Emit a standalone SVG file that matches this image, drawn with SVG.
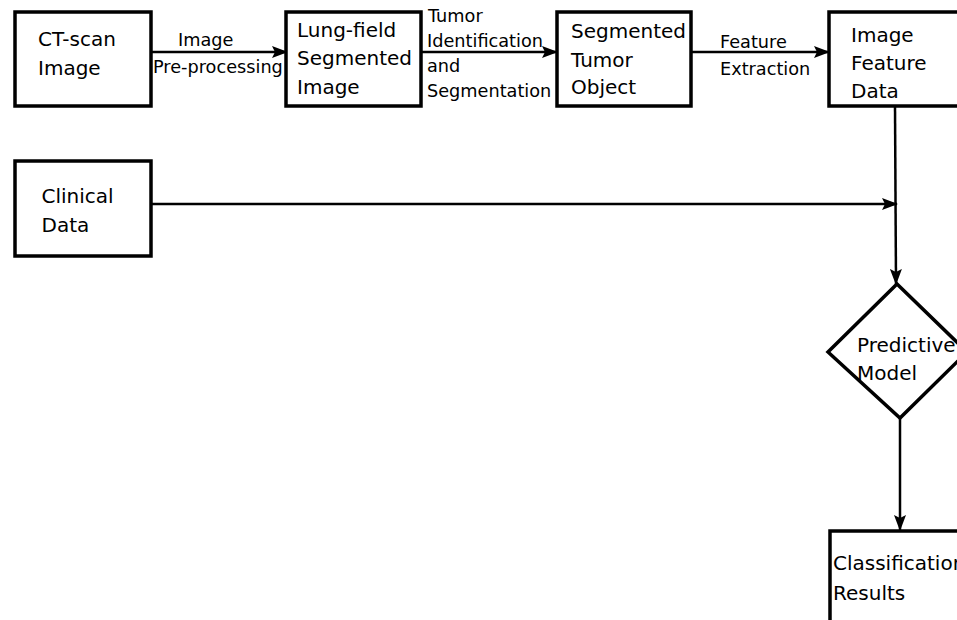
<svg xmlns="http://www.w3.org/2000/svg" width="957" height="620" viewBox="0 0 957 620">
<defs>
<marker id="ah" markerWidth="16" markerHeight="12" refX="15" refY="6" orient="auto" markerUnits="userSpaceOnUse">
<path d="M0,0 L16,6 L0,12 L3,6 Z" fill="#000"/>
</marker>
<style>
.box{fill:#fff;stroke:#000;stroke-width:3.5}
.nt{font-family:"DejaVu Sans",sans-serif;font-size:20px;fill:#000}
.et{font-family:"DejaVu Sans",sans-serif;font-size:17.7px;fill:#000}
.ln{fill:none;stroke:#000;stroke-width:2.5}
</style>
</defs>
<rect width="957" height="620" fill="#fff"/>
<g id="connectors">
<line class="ln" x1="151" y1="52" x2="287" y2="52" marker-end="url(#ah)"/>
<line class="ln" x1="421" y1="52" x2="557" y2="52" marker-end="url(#ah)"/>
<line class="ln" x1="691" y1="52" x2="829" y2="52" marker-end="url(#ah)"/>
<line class="ln" x1="151" y1="204" x2="897" y2="204" marker-end="url(#ah)"/>
<line class="ln" x1="895" y1="106" x2="896" y2="284" marker-end="url(#ah)"/>
<line class="ln" x1="900" y1="418" x2="900" y2="530" marker-end="url(#ah)"/>
<text class="et" x="178" y="46">Image</text>
<text class="et" x="153" y="73">Pre-processing</text>
<text class="et" x="428" y="21.5">Tumor</text>
<text class="et" x="427" y="46.5">Identification</text>
<text class="et" x="427" y="71.5">and</text>
<text class="et" x="427" y="96.5">Segmentation</text>
<text class="et" x="720" y="48">Feature</text>
<text class="et" x="720" y="75">Extraction</text>
</g>
<g id="ct">
<rect class="box" x="15" y="12" width="136" height="94"/>
<text class="nt" x="38" y="45.5">CT-scan</text>
<text class="nt" x="38" y="75">Image</text>
</g>
<g id="lung">
<rect class="box" x="286" y="12" width="135" height="94"/>
<text class="nt" x="297" y="36.5">Lung-field</text>
<text class="nt" x="297" y="65.3">Segmented</text>
<text class="nt" x="297" y="94">Image</text>
</g>
<g id="tumor">
<rect class="box" x="557" y="12" width="134" height="94"/>
<text class="nt" x="571" y="38">Segmented</text>
<text class="nt" x="571" y="66.5">Tumor</text>
<text class="nt" x="571" y="93.5">Object</text>
</g>
<g id="feature">
<rect class="box" x="829" y="12" width="140" height="94"/>
<text class="nt" x="851" y="41.7">Image</text>
<text class="nt" x="851" y="70">Feature</text>
<text class="nt" x="851" y="98">Data</text>
</g>
<g id="clinical">
<rect class="box" x="15" y="161" width="136" height="95"/>
<text class="nt" x="41.5" y="202.7">Clinical</text>
<text class="nt" x="41.5" y="231.7">Data</text>
</g>
<g id="model">
<polygon class="box" points="897,284 967,352 900,418 828,352"/>
<text class="nt" x="857" y="351.7">Predictive</text>
<text class="nt" x="857" y="380">Model</text>
</g>
<g id="results">
<rect class="box" x="830" y="531" width="140" height="110"/>
<text class="nt" x="833" y="570">Classification</text>
<text class="nt" x="833" y="600">Results</text>
</g>
</svg>
